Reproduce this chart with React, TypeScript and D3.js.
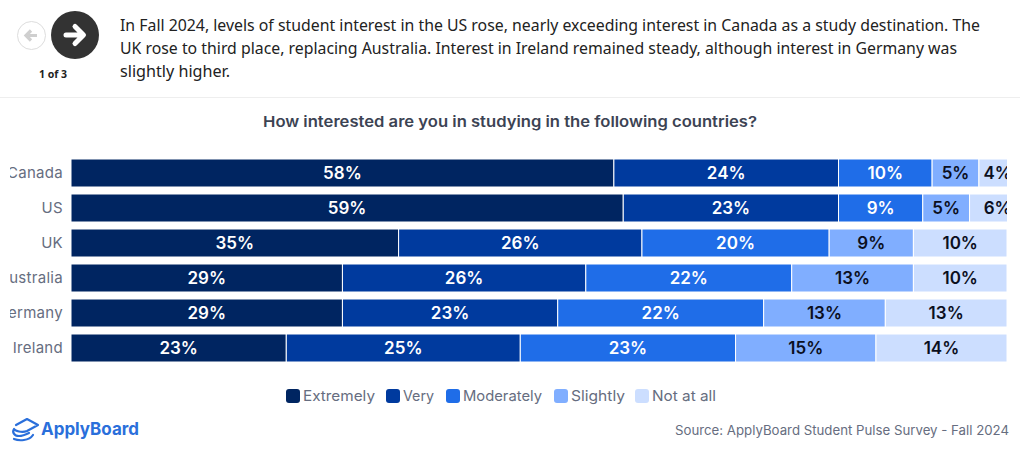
import React from "react";
import * as d3 from "d3";

const categories = ["Canada", "US", "UK", "Australia", "Germany", "Ireland"];
const seriesNames = ["Extremely", "Very", "Moderately", "Slightly", "Not at all"];
const extremely = [58, 59, 35, 29, 29, 23];
const very = [24, 23, 26, 26, 23, 25];
const moderately = [10, 9, 20, 22, 22, 23];
const slightly = [5, 5, 9, 13, 13, 15];
const notAtAll = [4, 6, 10, 10, 13, 14];
const seriesValues = [extremely, very, moderately, slightly, notAtAll];
const colors = ["#002561", "#003a9e", "#1f6de8", "#80aeff", "#ccdeff"];
const labelColors = ["#ffffff", "#ffffff", "#ffffff", "#0b0f1e", "#0b0f1e"];
const legendX = [286, 386, 446, 554, 635];
const legendWidths = [72, 31, 79, 54, 64];
const bodyLines = [
  "In Fall 2024, levels of student interest in the US rose, nearly exceeding interest in Canada as a study destination. The",
  "UK rose to third place, replacing Australia. Interest in Ireland remained steady, although interest in Germany was",
  "slightly higher.",
];
const bodyWidths = [860, 837, 110];
const title = "How interested are you in studying in the following countries?";
const source = "Source: ApplyBoard Student Pulse Survey - Fall 2024";
const wide = "Inter, 'DejaVu Sans', sans-serif";
const body = "'Noto Sans', 'Open Sans', sans-serif";

export default function App() {
  const x = d3.scaleLinear().domain([0, 100]).range([71, 1007]);
  const y = d3.scaleBand().domain(categories).range([155.5, 365.5]).paddingInner(0.2).paddingOuter(0.1);
  const bw = y.bandwidth();
  return (
    <svg width={1020} height={451} viewBox="0 0 1020 451" style={{ position: "absolute", left: 0, top: 0, background: "#fff" }}>
      <defs>
        <clipPath id="plot"><rect x={10} y={150} width={997} height={220} /></clipPath>
      </defs>
      <circle cx={31.5} cy={35.5} r={14} fill="#fff" stroke="#dddddd" strokeWidth={1} />
      <path d="M37 35.5H27M31 30.5l-5 5 5 5" fill="none" stroke="#cfcfcf" strokeWidth={3.2} />
      <circle cx={75} cy={35} r={24} fill="#333333" />
      <path d="M66 35H82M75 26.5l8.5 8.5-8.5 8.5" fill="none" stroke="#fff" strokeWidth={5} strokeLinejoin="round" strokeLinecap="round" />
      <text x={53} y={78} textAnchor="middle" fontFamily={body} fontWeight={700} fontSize={10.5} fill="#222">1 of 3</text>
      {bodyLines.map((l, i) => (
        <text key={i} x={120} y={31 + i * 23} fontFamily={body} fontSize={17} fill="#222" textLength={bodyWidths[i]} lengthAdjust="spacingAndGlyphs">{l}</text>
      ))}
      <line x1={0} x2={1020} y1={97.5} y2={97.5} stroke="#eeeeee" />
      <text x={263} y={127} fontFamily={wide} fontWeight={600} fontSize={15} fill="#3c4353" textLength={494} lengthAdjust="spacingAndGlyphs">{title}</text>

      <g clipPath="url(#plot)">
        {categories.map((c) => (
          <text key={c} x={63} y={y(c)! + bw / 2 + 5} textAnchor="end" fontFamily={wide} fontSize={15} letterSpacing={0.3} fill="#666d80">{c}</text>
        ))}
        {seriesValues.map((vals, s) => (
          <g key={s}>
            {vals.map((v, i) => {
              const start = d3.sum(seriesValues.slice(0, s), (a) => a[i]);
              return (
                <g key={i}>
                  <rect x={x(start)} y={y(categories[i])} width={x(start + v) - x(start)} height={bw} fill={colors[s]} stroke="#fff" strokeWidth={1} />
                  <text x={x(start + v / 2)} y={y(categories[i])! + bw / 2 + 6} textAnchor="middle" fontFamily={wide} fontWeight={600} fontSize={17} fill={labelColors[s]}>{v}%</text>
                </g>
              );
            })}
          </g>
        ))}
      </g>

      {seriesNames.map((n, i) => (
        <g key={n}>
          <rect x={legendX[i]} y={389} width={14} height={14} rx={3} fill={colors[i]} />
          <text x={legendX[i] + 17} y={401} fontFamily={wide} fontSize={14.5} fill="#666d80" textLength={legendWidths[i]} lengthAdjust="spacingAndGlyphs">{n}</text>
        </g>
      ))}

      <g fill="none" stroke="#2a6fdb" strokeWidth={2.2} strokeLinecap="round" strokeLinejoin="round">
        <path d="M16 425L27 419L38 425L27 431C22 433 15 431 14 429C12 432 14 436 19 436C22 436 25 435 29 433" />
        <path d="M14 439C19 441 29 441 33 435" />
      </g>
      <text x={41} y={435} fontFamily={wide} fontWeight={700} fontSize={17.5} fill="#2a6fdb" textLength={98} lengthAdjust="spacingAndGlyphs">ApplyBoard</text>
      <text x={675} y={435} fontFamily={wide} fontSize={13} fill="#666d80" textLength={334} lengthAdjust="spacingAndGlyphs">{source}</text>
    </svg>
  );
}
